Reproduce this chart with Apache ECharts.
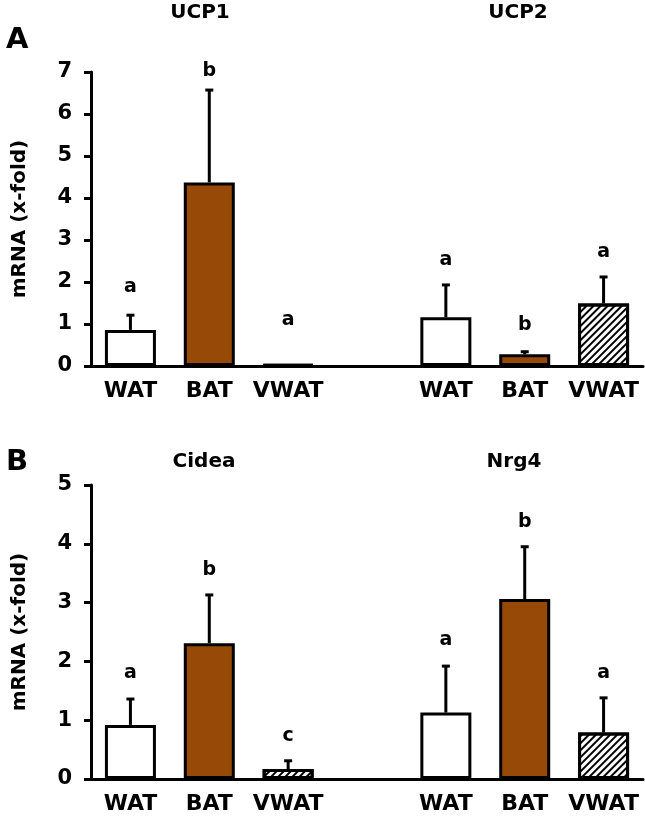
<!DOCTYPE html>
<html><head><meta charset="utf-8">
<script src="https://cdn.jsdelivr.net/npm/echarts@6/dist/echarts.min.js"></script>
<style>html,body{margin:0;padding:0;background:#fff}#c{width:645px;height:818px}</style>
</head><body><div id="c"></div>
<script>
// ---- data ----
const tickLabels = ['WAT', 'BAT', 'VWAT', '', 'WAT', 'BAT', 'VWAT'];
const tissueStyle = ['white', 'brown', 'hatch', null, 'white', 'brown', 'hatch'];
const panelATitles = ['UCP1', 'UCP2'];
const panelBTitles = ['Cidea', 'Nrg4'];
const yTicksA = [0, 1, 2, 3, 4, 5, 6, 7];
const yTicksB = [0, 1, 2, 3, 4, 5];

const meanA = [0.86, 4.37, 0.03, null, 1.16, 0.28, 1.49];
const errA = [0.35, 2.20, 0.0, null, 0.77, 0.06, 0.63];
const letterA = ['a', 'b', 'a', null, 'a', 'b', 'a'];
const letterPosA = [1.89, 7.02, 1.09, null, 2.52, 0.98, 2.71];

const meanB = [0.92, 2.31, 0.17, null, 1.13, 3.06, 0.79];
const errB = [0.44, 0.82, 0.14, null, 0.79, 0.89, 0.59];
const letterB = ['a', 'b', 'c', null, 'a', 'b', 'a'];
const letterPosB = [1.80, 3.55, 0.73, null, 2.37, 4.37, 1.80];

// ---- styles ----
const FONT = '"DejaVu Sans", "Liberation Sans", Arial, sans-serif';
const BROWN = '#974A08';
const hatchDecal = {
  symbol: 'rect', symbolSize: 1, color: '#000',
  dashArrayX: [[1, 0]], dashArrayY: [2, 3], rotation: -Math.PI / 4
};
function barItem(v, i) {
  if (v === null) return null;
  const s = tissueStyle[i];
  const st = { color: s === 'brown' ? BROWN : '#fff', borderColor: '#000', borderWidth: 3 };
  if (s === 'hatch') st.decal = hatchDecal;
  return { value: v, itemStyle: st };
}
function errData(mean, err) {
  const out = [];
  mean.forEach((m, i) => { if (m !== null) out.push([i, m, err[i]]); });
  return out;
}
function letterData(pos, let_) {
  const out = [];
  pos.forEach((p, i) => { if (p !== null) out.push([i, p, let_[i]]); });
  return out;
}
function renderErr(params, api) {
  const i = api.value(0), m = api.value(1), e = api.value(2);
  const p0 = api.coord([i, m]);
  const p1 = api.coord([i, m + e]);
  if (e <= 0) return null;
  return { type: 'group', children: [
    { type: 'line', shape: { x1: p0[0], y1: p0[1], x2: p1[0], y2: p1[1] }, style: { stroke: '#000', lineWidth: 3 } },
    { type: 'line', shape: { x1: p1[0] - 4, y1: p1[1], x2: p1[0] + 4, y2: p1[1] }, style: { stroke: '#000', lineWidth: 3 } }
  ]};
}
function makeLetterRenderer(letters) {
  return function (params, api) {
    const p = api.coord([api.value(0), api.value(1)]);
    return { type: 'text', x: p[0], y: p[1], style: { text: letters[params.dataIndex], align: 'center', verticalAlign: 'middle', font: 'bold 19px ' + FONT, fill: '#000' } };
  };
}

function xAxisCfg(gi) {
  return {
    type: 'category', gridIndex: gi, data: tickLabels,
    axisLine: { lineStyle: { color: '#000', width: 3 } },
    axisTick: { show: false },
    axisLabel: { interval: 0, color: '#000', fontFamily: FONT, fontWeight: 'bold', fontSize: 22, margin: 14 }
  };
}
function yAxisCfg(gi, ticks) {
  return {
    type: 'value', gridIndex: gi, min: ticks[0], max: ticks[ticks.length - 1], interval: ticks[1] - ticks[0],
    name: 'mRNA (x-fold)', nameLocation: 'middle', nameGap: 61,
    nameTextStyle: { color: '#000', fontFamily: FONT, fontWeight: 'bold', fontSize: 20 },
    axisLine: { show: true, lineStyle: { color: '#000', width: 3 } },
    axisTick: { show: true, length: 7, lineStyle: { color: '#000', width: 3 } },
    axisLabel: { color: '#000', fontFamily: FONT, fontWeight: 'bold', fontSize: 21, margin: 19 },
    splitLine: { show: false }
  };
}

const lettersA = letterData(letterPosA, letterA).map(d => d[2]);
const lettersB = letterData(letterPosB, letterB).map(d => d[2]);

const chart = echarts.init(document.getElementById('c'), null, { renderer: 'canvas' });
chart.setOption({
  animation: false,
  backgroundColor: '#fff',
  grid: [
    { left: 91, width: 552, top: 72, height: 294 },
    { left: 91, width: 552, top: 485, height: 294 }
  ],
  xAxis: [xAxisCfg(0), xAxisCfg(1)],
  yAxis: [yAxisCfg(0, yTicksA), yAxisCfg(1, yTicksB)],
  graphic: [
    { type: 'text', x: 6, y: 40, style: { text: 'A', verticalAlign: 'middle', font: 'bold 29px ' + FONT, fill: '#000' } },
    { type: 'text', x: 6, y: 462, style: { text: 'B', verticalAlign: 'middle', font: 'bold 29px ' + FONT, fill: '#000' } },
    { type: 'text', x: 200, y: 13, style: { text: panelATitles[0], align: 'center', verticalAlign: 'middle', font: 'bold 20px ' + FONT, fill: '#000' } },
    { type: 'text', x: 518, y: 13, style: { text: panelATitles[1], align: 'center', verticalAlign: 'middle', font: 'bold 20px ' + FONT, fill: '#000' } },
    { type: 'text', x: 204, y: 462, style: { text: panelBTitles[0], align: 'center', verticalAlign: 'middle', font: 'bold 20px ' + FONT, fill: '#000' } },
    { type: 'text', x: 514, y: 462, style: { text: panelBTitles[1], align: 'center', verticalAlign: 'middle', font: 'bold 20px ' + FONT, fill: '#000' } }
  ],
  series: [
    { type: 'bar', xAxisIndex: 0, yAxisIndex: 0, barWidth: 51, data: meanA.map(barItem), z: 2 },
    { type: 'custom', xAxisIndex: 0, yAxisIndex: 0, data: errData(meanA, errA), encode: { x: 0, y: 1 }, renderItem: renderErr, z: 3 },
    { type: 'custom', xAxisIndex: 0, yAxisIndex: 0, data: letterData(letterPosA, letterA).map(d => [d[0], d[1]]), encode: { x: 0, y: 1 },
      renderItem: makeLetterRenderer(lettersA), z: 4 },
    { type: 'bar', xAxisIndex: 1, yAxisIndex: 1, barWidth: 51, data: meanB.map(barItem), z: 2 },
    { type: 'custom', xAxisIndex: 1, yAxisIndex: 1, data: errData(meanB, errB), encode: { x: 0, y: 1 }, renderItem: renderErr, z: 3 },
    { type: 'custom', xAxisIndex: 1, yAxisIndex: 1, data: letterData(letterPosB, letterB).map(d => [d[0], d[1]]), encode: { x: 0, y: 1 },
      renderItem: makeLetterRenderer(lettersB), z: 4 }
  ]
});
</script>
</body></html>
